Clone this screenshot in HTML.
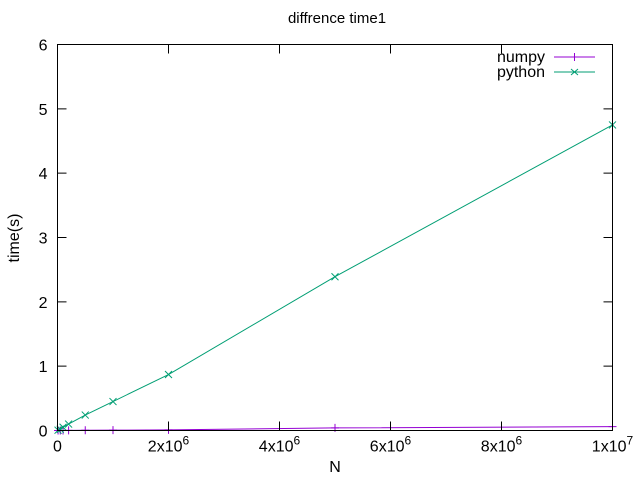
<!DOCTYPE html>
<html><head><meta charset="utf-8"><style>
body{margin:0;background:#fff}
svg text{font-family:"Liberation Sans",sans-serif;font-size:16px;fill:#000}
</style></head><body>
<svg id="chart" width="640" height="480" xmlns="http://www.w3.org/2000/svg">
<text x="337" y="23" text-anchor="middle" font-size="15" style="font-size:15px">diffrence time1</text>
<text x="335" y="472" text-anchor="middle">N</text>
<text transform="translate(19,238) rotate(-90)" text-anchor="middle">time(s)</text>
<g id="series"></g>
<g id="ticks"></g>
<rect x="57.5" y="44.5" width="555" height="386" fill="none" stroke="#000"/>
<g>
<text x="545" y="62" text-anchor="end">numpy</text>
<line x1="554" y1="57" x2="595" y2="57" stroke="#9400d3"/>
<line x1="574.5" y1="53" x2="574.5" y2="61" stroke="#9400d3"/>
<text x="545" y="77" text-anchor="end">python</text>
<line x1="554" y1="72" x2="595" y2="72" stroke="#009e73"/>
<path d="M571 69l7 6M571 75l7-6" stroke="#009e73"/>
</g>
</svg>
<script>
const xValues=[10000,50000,100000,200000,500000,1000000,2000000,5000000,10000000];
const numpyValues=[0.0001,0.0003,0.0005,0.001,0.003,0.005,0.01,0.04,0.06];
const pythonValues=[0.005,0.02,0.05,0.1,0.24,0.45,0.87,2.39,4.75];
const yTicks=[0,1,2,3,4,5,6];
const xTicks=[0,2e6,4e6,6e6,8e6,1e7];
const xTickLabels=["0","2x10^6","4x10^6","6x10^6","8x10^6","1x10^7"];
const NS="http://www.w3.org/2000/svg";
const L=57.5,R=612.5,T=44.5,B=430.5;
const sx=v=>L+(v/1e7)*(R-L);
const sy=v=>B-(v/6)*(B-T);
const tg=document.getElementById('ticks'),sg=document.getElementById('series');
function mk(tag,at,p){const e=document.createElementNS(NS,tag);for(const k in at)e.setAttribute(k,at[k]);p.appendChild(e);return e;}
yTicks.forEach(v=>{
 const y=sy(v);
 const a=mk('path',{d:`M${L} ${y}h9M${R} ${y}h-9`,stroke:'#000'},tg);
 
 
 const t=mk('text',{x:L-10,y:y+6,'text-anchor':'end'},tg);
 
 
 t.textContent=v;
});
xTicks.forEach((v,i)=>{
 const x=sx(v);
 const a=mk('path',{d:`M${x} ${B}v-9M${x} ${T}v9`,stroke:'#000'},tg);
 
 
 const t=mk('text',{x:x,y:B+21,'text-anchor':'middle'},tg);
 
 
 const p=xTickLabels[i].split('^');
 t.textContent=p[0];
 if(p[1]){const s=mk('tspan',{dy:-7,style:'font-size:12px'},t);s.textContent=p[1];}
});
function series(vals,color,name,marker){
 const pts=xValues.map((x,i)=>[sx(x),sy(vals[i])]);
 const l=mk('polyline',{points:pts.map(p=>p.join(',')).join(' '),fill:'none',stroke:color},sg);
 
 
 pts.forEach(p=>{
  const d=marker==='plus'?`M${p[0]} ${p[1]-4}v8M${p[0]-4} ${p[1]}h8`:`M${p[0]-3.5} ${p[1]-3.5}l7 7M${p[0]-3.5} ${p[1]+3.5}l7 -7`;
  const m=mk('path',{d:d,stroke:color},sg);
  
  
 });
}
series(numpyValues,'#9400d3','numpy','plus');
series(pythonValues,'#009e73','python','x');
</script>
</body></html>
